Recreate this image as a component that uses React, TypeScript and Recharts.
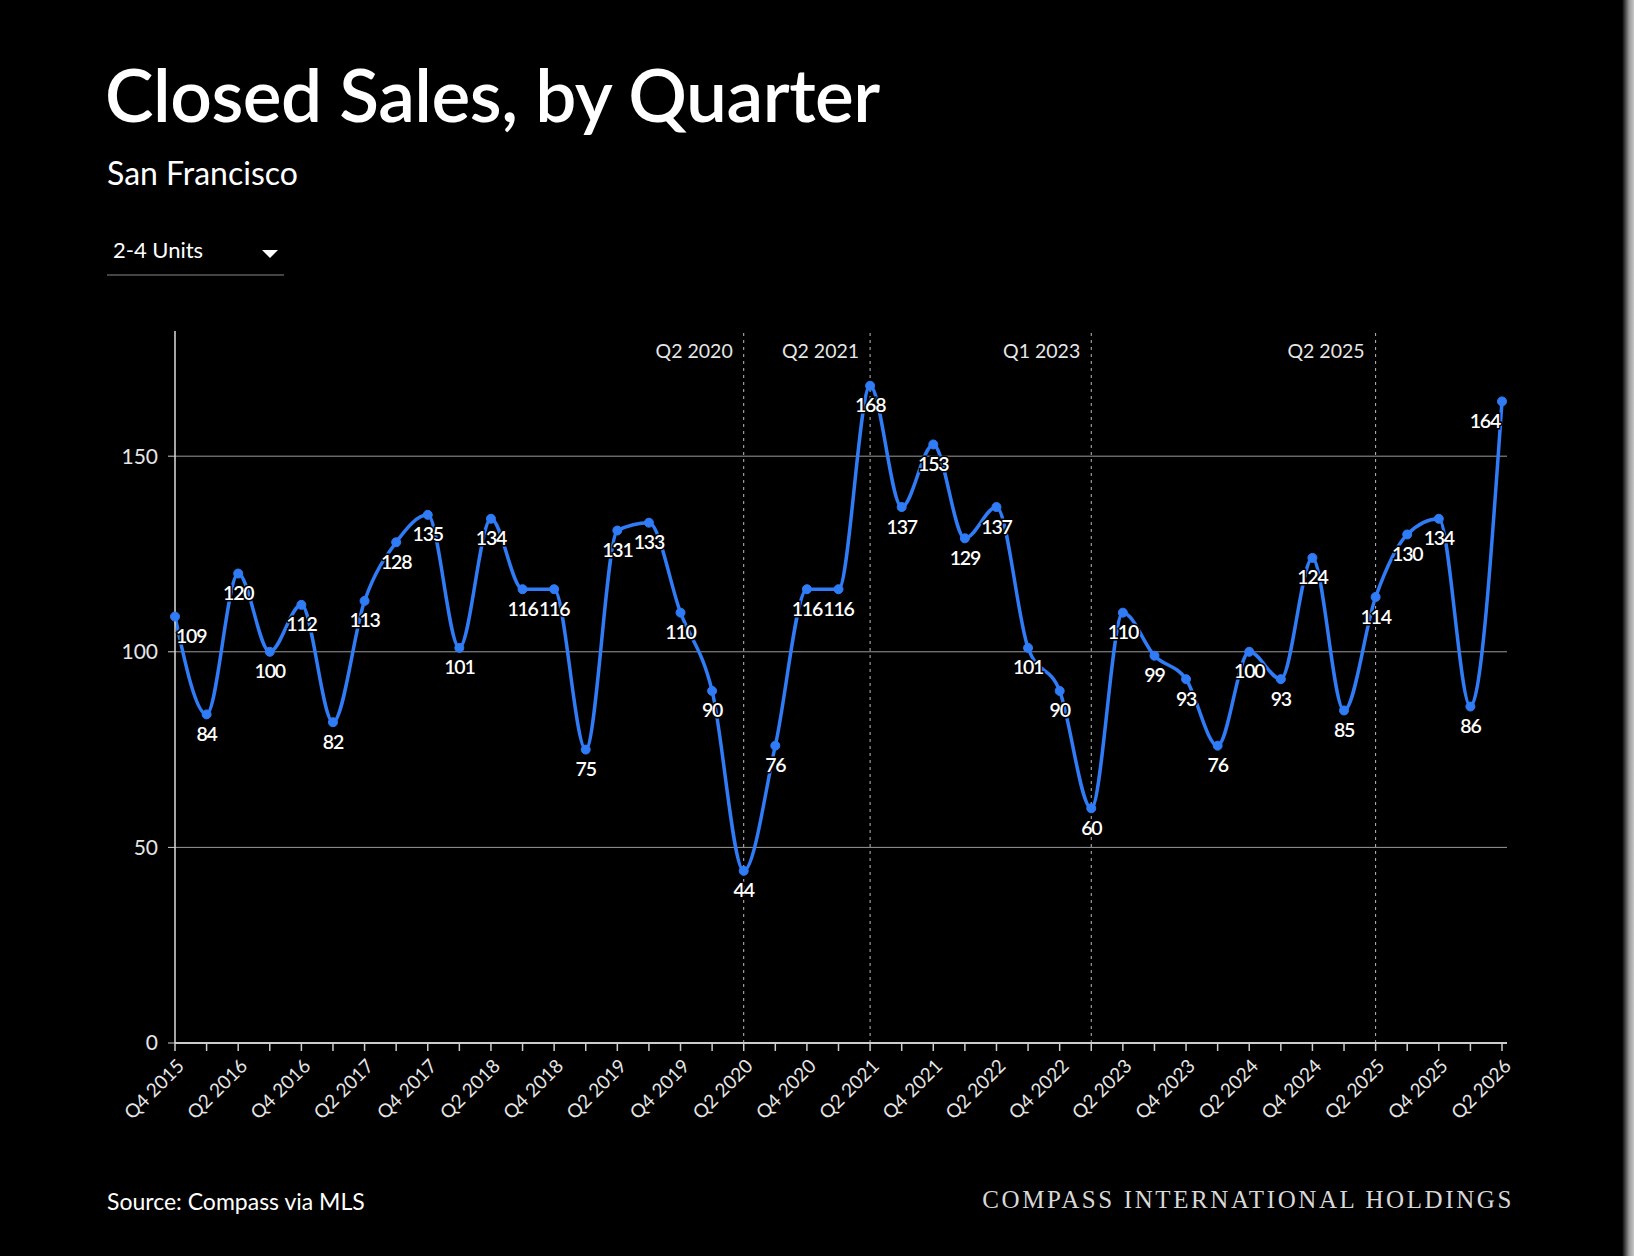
import React from "react";
import {
  LineChart,
  Line,
  XAxis,
  YAxis,
  ReferenceLine,
  LabelList,
} from "recharts";

const quarters = [
  "Q4 2015",
  "Q1 2016", "Q2 2016", "Q3 2016", "Q4 2016",
  "Q1 2017", "Q2 2017", "Q3 2017", "Q4 2017",
  "Q1 2018", "Q2 2018", "Q3 2018", "Q4 2018",
  "Q1 2019", "Q2 2019", "Q3 2019", "Q4 2019",
  "Q1 2020", "Q2 2020", "Q3 2020", "Q4 2020",
  "Q1 2021", "Q2 2021", "Q3 2021", "Q4 2021",
  "Q1 2022", "Q2 2022", "Q3 2022", "Q4 2022",
  "Q1 2023", "Q2 2023", "Q3 2023", "Q4 2023",
  "Q1 2024", "Q2 2024", "Q3 2024", "Q4 2024",
  "Q1 2025", "Q2 2025", "Q3 2025", "Q4 2025",
  "Q1 2026", "Q2 2026",
];

const closedSales = [
  109,
  84, 120, 100, 112,
  82, 113, 128, 135,
  101, 134, 116, 116,
  75, 131, 133, 110,
  90, 44, 76, 116,
  116, 168, 137, 153,
  129, 137, 101, 90,
  60, 110, 99, 93,
  76, 100, 93, 124,
  85, 114, 130, 134,
  86, 164,
];

const markers = ["Q2 2020", "Q2 2021", "Q1 2023", "Q2 2025"];
const yTicks = [0, 50, 100, 150];
const gridValues = [50, 100, 150];

const data = quarters.map((q, i) => ({ q, value: closedSales[i] }));

const FONT = "Lato, 'Noto Sans', sans-serif";
const BLUE = "#2f7cf6";

const XTick = (props: any) => {
  const { x, y, payload, index } = props;
  if (index % 2 !== 0) return null;
  return (
    <g transform={`translate(${x + 5},${y + 9})`}>
      <text
        transform="rotate(-45)"
        textAnchor="end"
        dominantBaseline="central"
        fill="#e6e6e6"
        fontSize={19}
        fontFamily={FONT}
      >
        {payload.value}
      </text>
    </g>
  );
};

const PointLabel = (props: any) => {
  const { x, y, value, index } = props;
  let anchor = "middle";
  let dx = 0;
  if (index === 0) {
    anchor = "start";
    dx = 1;
  } else if (index === closedSales.length - 1) {
    anchor = "end";
    dx = -2;
  }
  return (
    <text
      x={x + dx}
      y={y + 19}
      textAnchor={anchor}
      dominantBaseline="central"
      fill="#ffffff"
      stroke="#000000"
      strokeWidth={3}
      paintOrder="stroke"
      fontSize={19.5}
      fontWeight={600}
      letterSpacing={-1.2}
      fontFamily={FONT}
    >
      {value}
    </text>
  );
};

const MarkerLabel = (props: any) => {
  const { viewBox, text } = props;
  if (!viewBox) return null;
  return (
    <text
      x={viewBox.x - 11}
      y={viewBox.y + 19}
      textAnchor="end"
      dominantBaseline="central"
      fill="#e6e6e6"
      fontSize={19.5}
      fontFamily={FONT}
    >
      {text}
    </text>
  );
};

export default function App() {
  return (
    <div
      style={{
        position: "absolute",
        left: 0,
        top: 0,
        width: 1634,
        height: 1256,
        background: "#000",
        overflow: "hidden",
        fontFamily: FONT,
        color: "#fff",
      }}
    >
      <div
        style={{
          position: "absolute",
          left: 105,
          top: 50,
          fontSize: 73,
          fontWeight: 600,
          letterSpacing: -0.5,
          whiteSpace: "nowrap",
        }}
      >
        Closed Sales, by Quarter
      </div>
      <div style={{ position: "absolute", left: 107, top: 153, fontSize: 32 }}>
        San Francisco
      </div>
      <div style={{ position: "absolute", left: 113, top: 236, fontSize: 22 }}>
        2-4 Units
      </div>
      <svg
        width={18}
        height={10}
        style={{ position: "absolute", left: 261, top: 249 }}
      >
        <polygon points="1,1 17,1 9,9" fill="#fff" />
      </svg>
      <div
        style={{
          position: "absolute",
          left: 107,
          top: 274,
          width: 177,
          height: 2,
          background: "#444",
        }}
      />

      <div style={{ position: "absolute", left: 0, top: 0 }}>
        <LineChart
          width={1634}
          height={1256}
          data={data}
          margin={{ top: 331, right: 127, bottom: 133, left: 0 }}
        >
          <XAxis
            dataKey="q"
            interval={0}
            tick={<XTick />}
            tickSize={8}
            tickLine={{ stroke: "#cccccc", strokeWidth: 1.5 }}
            axisLine={{ stroke: "#cccccc", strokeWidth: 2 }}
            padding={{ left: 0, right: 5 }}
            height={80}
          />
          <YAxis
            domain={[0, 182]}
            ticks={yTicks}
            width={175}
            tickSize={7}
            tickMargin={10}
            tick={{ fill: "#e6e6e6", fontSize: 21, fontFamily: FONT }}
            tickLine={{ stroke: "#cccccc" }}
            axisLine={{ stroke: "#dddddd", strokeWidth: 1.5 }}
          />
          {gridValues.map((v) => (
            <ReferenceLine key={v} y={v} stroke="#9a9a9a" strokeWidth={1} />
          ))}
          {markers.map((m) => (
            <ReferenceLine
              key={m}
              x={m}
              stroke="#bbbbbb"
              strokeWidth={1}
              strokeDasharray="3 4"
              label={<MarkerLabel text={m} />}
            />
          ))}
          <Line
            type="monotone"
            dataKey="value"
            stroke={BLUE}
            strokeWidth={3.5}
            dot={{ r: 4.5, fill: BLUE, stroke: BLUE, strokeWidth: 1 }}
            activeDot={false}
            isAnimationActive={false}
          >
            <LabelList dataKey="value" content={<PointLabel />} />
          </Line>
        </LineChart>
      </div>

      <div style={{ position: "absolute", left: 107, top: 1187, fontSize: 23 }}>
        Source: Compass via MLS
      </div>
      <div
        style={{
          position: "absolute",
          right: 120,
          top: 1186,
          fontSize: 25,
          letterSpacing: 2.6,
          fontFamily: "'Liberation Serif', 'DejaVu Serif', serif",
          color: "#d8d8d8",
          whiteSpace: "nowrap",
        }}
      >
        COMPASS INTERNATIONAL HOLDINGS
      </div>
      <div
        style={{
          position: "absolute",
          left: 1622,
          top: 0,
          width: 12,
          height: 1256,
          background: "linear-gradient(to right, #000, #9a9a9a 60%, #c8c8c8)",
        }}
      />
    </div>
  );
}
